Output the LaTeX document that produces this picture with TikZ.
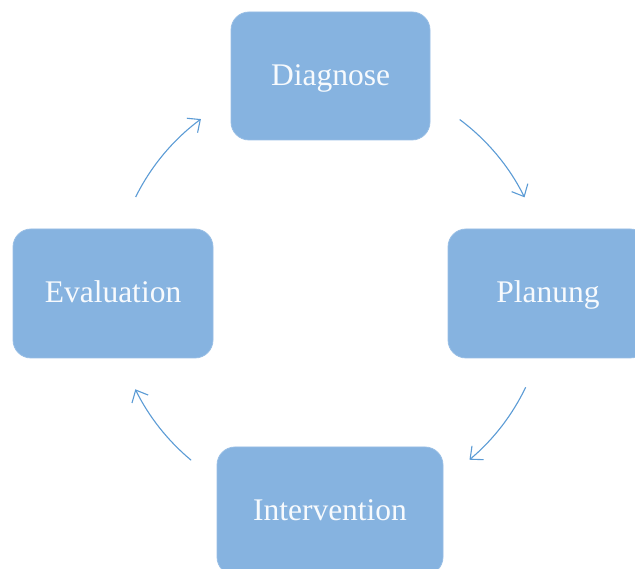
\documentclass[tikz,border=0pt]{standalone}
\usepackage{fontspec}
\setmainfont{Liberation Serif}
\usetikzlibrary{arrows.meta}
\definecolor{boxfill}{HTML}{86B3E0}
\definecolor{arrowcol}{HTML}{5B9BD5}
\definecolor{txt}{HTML}{F7FAFD}
\tikzset{
  stagebox/.style={draw=boxfill!85!white, line width=0.8pt, fill=boxfill, rounded corners=18pt,
    text=txt, font=\fontsize{31.5}{36}\selectfont, inner sep=0pt, anchor=center,
    text height=24pt, text depth=5pt},
  cyclearrow/.style={draw=arrowcol, line width=1.1pt, -{Straight Barb[length=10pt,width=18pt,line width=1.1pt]}}
}
\begin{document}
\begin{tikzpicture}[x=1pt,y=1pt]
\useasboundingbox (0,0) rectangle (635,569);
\coordinate (c) at (330,275.5);
\node[stagebox, minimum width=199pt, minimum height=128pt] (diag) at (330.5,493) {Diagnose};
\node[stagebox, minimum width=200pt, minimum height=129pt] (plan) at (548,275.5) {Planung};
\node[stagebox, minimum width=200pt, minimum height=129pt] (eval) at (113,275.5) {Evaluation};
\node[stagebox, minimum width=226pt, minimum height=128pt] (inter) at (330,58) {Intervention};
\draw[cyclearrow] (c) ++(53.3:217) coordinate (a1s) arc[start angle=53.3, end angle=26.3, radius=217] coordinate (a1e);
\draw[cyclearrow] (c) ++(-25.6:217) coordinate (a2s) arc[start angle=-25.6, end angle=-50, radius=217] coordinate (a2e);
\draw[cyclearrow] (c) ++(-129.8:217) coordinate (a3s) arc[start angle=-129.8, end angle=-153.8, radius=217] coordinate (a3e);
\draw[cyclearrow] (c) ++(153.6:217) coordinate (a4s) arc[start angle=153.6, end angle=126.5, radius=217] coordinate (a4e);
\end{tikzpicture}
\end{document}
